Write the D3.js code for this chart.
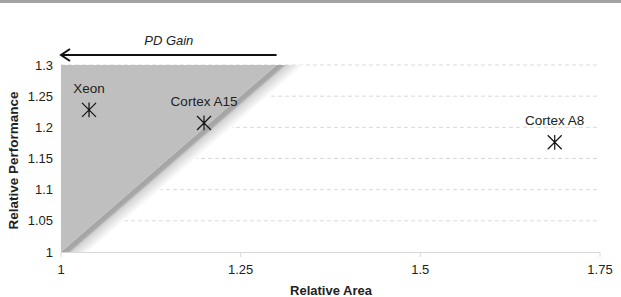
<!DOCTYPE html>
<html><head><meta charset="utf-8">
<script src="https://cdn.jsdelivr.net/npm/d3@7"></script>
<style>body{margin:0;background:#fff}svg{display:block;font-family:"Liberation Sans",Arial,sans-serif}</style>
</head><body>
<svg id="c" width="621" height="297"></svg>
<script>
const names = ["Xeon", "Cortex A15", "Cortex A8"];
const areas = [1.039, 1.199, 1.687];
const perfs = [1.228, 1.207, 1.176];
const xTicks = [1, 1.25, 1.5, 1.75];
const yTicks = [1, 1.05, 1.1, 1.15, 1.2, 1.25, 1.3];
const xTickLabels = ["1", "1.25", "1.5", "1.75"];
const yTickLabels = ["1", "1.05", "1.1", "1.15", "1.2", "1.25", "1.3"];
const gainEnd = 1.3; // boundary y = x up to 1.3

const svg = d3.select("#c");
const x = d3.scaleLinear().domain([1, 1.75]).range([61, 600]);
const y = d3.scaleLinear().domain([1, 1.3]).range([252, 65]);

// top rule
svg.append("rect").attr("x",0).attr("y",0).attr("width",621).attr("height",3).attr("fill","#a3a3a3");

// gridlines
svg.append("g").selectAll("line").data(yTicks.slice(1)).join("line")
  .attr("x1", x(1)).attr("x2", x(1.75))
  .attr("y1", d => y(d)).attr("y2", d => y(d))
  .attr("stroke", "#d9d9d9").attr("stroke-dasharray", "4,3").attr("stroke-width", 1);

// x axis line
svg.append("line").attr("x1", x(1)).attr("x2", x(1.75)).attr("y1", y(1)+0.5).attr("y2", y(1)+0.5)
  .attr("stroke", "#d9d9d9");
svg.append("g").selectAll("line").data(xTicks).join("line")
  .attr("x1", d => x(d)).attr("x2", d => x(d)).attr("y1", y(1)).attr("y2", y(1)+5)
  .attr("stroke", "#d9d9d9");

const defs = svg.append("defs");
defs.append("clipPath").attr("id","plot").append("rect")
  .attr("x", x(1)).attr("y", y(1.3)).attr("width", x(1.75)-x(1)).attr("height", y(1)-y(1.3));

// shadow band along diagonal
const p0 = [x(1), y(1)], p1 = [x(gainEnd), y(gainEnd)];
const dx = p1[0]-p0[0], dy = p1[1]-p0[1], L = Math.hypot(dx, dy);
const nx = -dy / L, ny = dx / L; // points down-right
const W = 18;
const g = defs.append("linearGradient").attr("id","sh").attr("gradientUnits","userSpaceOnUse")
  .attr("x1", p0[0]).attr("y1", p0[1]).attr("x2", p0[0]+nx*W).attr("y2", p0[1]+ny*W);
g.append("stop").attr("offset", 0).attr("stop-color", "#a4a4a4");
g.append("stop").attr("offset", 0.25).attr("stop-color", "#a8a8a8");
g.append("stop").attr("offset", 0.38).attr("stop-color", "#d4d4d4");
g.append("stop").attr("offset", 1).attr("stop-color", "#ffffff");

const cg = svg.append("g").attr("clip-path", "url(#plot)");
cg.append("polygon")
  .attr("points", [[p0[0]-dx*0.1, p0[1]-dy*0.1],[p1[0]+dx*0.1, p1[1]+dy*0.1],
    [p1[0]+dx*0.1+nx*W, p1[1]+dy*0.1+ny*W],[p0[0]-dx*0.1+nx*W, p0[1]-dy*0.1+ny*W]].map(p=>p.join(",")).join(" "))
  .attr("fill", "url(#sh)");
// triangle
cg.append("polygon")
  .attr("points", [[x(1), y(1)], [x(1), y(1.3)], [x(gainEnd), y(1.3)]].map(p=>p.join(",")).join(" "))
  .attr("fill", "#bfbfbf");

// tick labels
svg.append("g").selectAll("text").data(xTicks).join("text")
  .attr("x", d => x(d)).attr("y", 274).attr("text-anchor","middle")
  .attr("font-size", 13).attr("fill","#222").text((d,i) => xTickLabels[i]);
svg.append("g").selectAll("text").data(yTicks).join("text")
  .attr("x", 53).attr("y", d => y(d)+4.5).attr("text-anchor","end")
  .attr("font-size", 13).attr("fill","#222").text((d,i) => yTickLabels[i]);

// axis titles
svg.append("text").attr("x", 331).attr("y", 295).attr("text-anchor","middle")
  .attr("font-size", 13).attr("font-weight","bold").attr("fill","#222").text("Relative Area");
svg.append("text").attr("transform", `translate(18,${(y(1)+y(1.3))/2+2}) rotate(-90)`)
  .attr("text-anchor","middle").attr("font-size", 13.5).attr("font-weight","bold").attr("fill","#222")
  .text("Relative Performance");

// markers
const s = 7;
const mk = svg.append("g").selectAll("g").data(names).join("g")
  .attr("transform", (d,i) => `translate(${x(areas[i])},${y(perfs[i])})`);
mk.append("path").attr("d", `M${-s},${-s}L${s},${s}M${-s},${s}L${s},${-s}M0,${-s*1.05}L0,${s*1.05}`)
  .attr("stroke", "#111").attr("stroke-width", 1.2).attr("fill","none");
mk.append("text").attr("y", -17).attr("text-anchor","middle").attr("font-size", 13.5).attr("fill","#222")
  .text(d => d);

// PD gain arrow
const ay = 55;
svg.append("line").attr("x1", x(gainEnd)).attr("x2", x(1)+1).attr("y1", ay).attr("y2", ay)
  .attr("stroke", "#111").attr("stroke-width", 2);
svg.append("path").attr("d", `M${x(1)+9},${ay-6}L${x(1)},${ay}L${x(1)+9},${ay+6}`)
  .attr("stroke", "#111").attr("stroke-width", 2).attr("fill","none");
svg.append("text").attr("x", (x(1)+x(gainEnd))/2).attr("y", 45).attr("text-anchor","middle")
  .attr("font-size", 13).attr("font-style","italic").attr("fill","#222").text("PD Gain");
</script>
</body></html>
